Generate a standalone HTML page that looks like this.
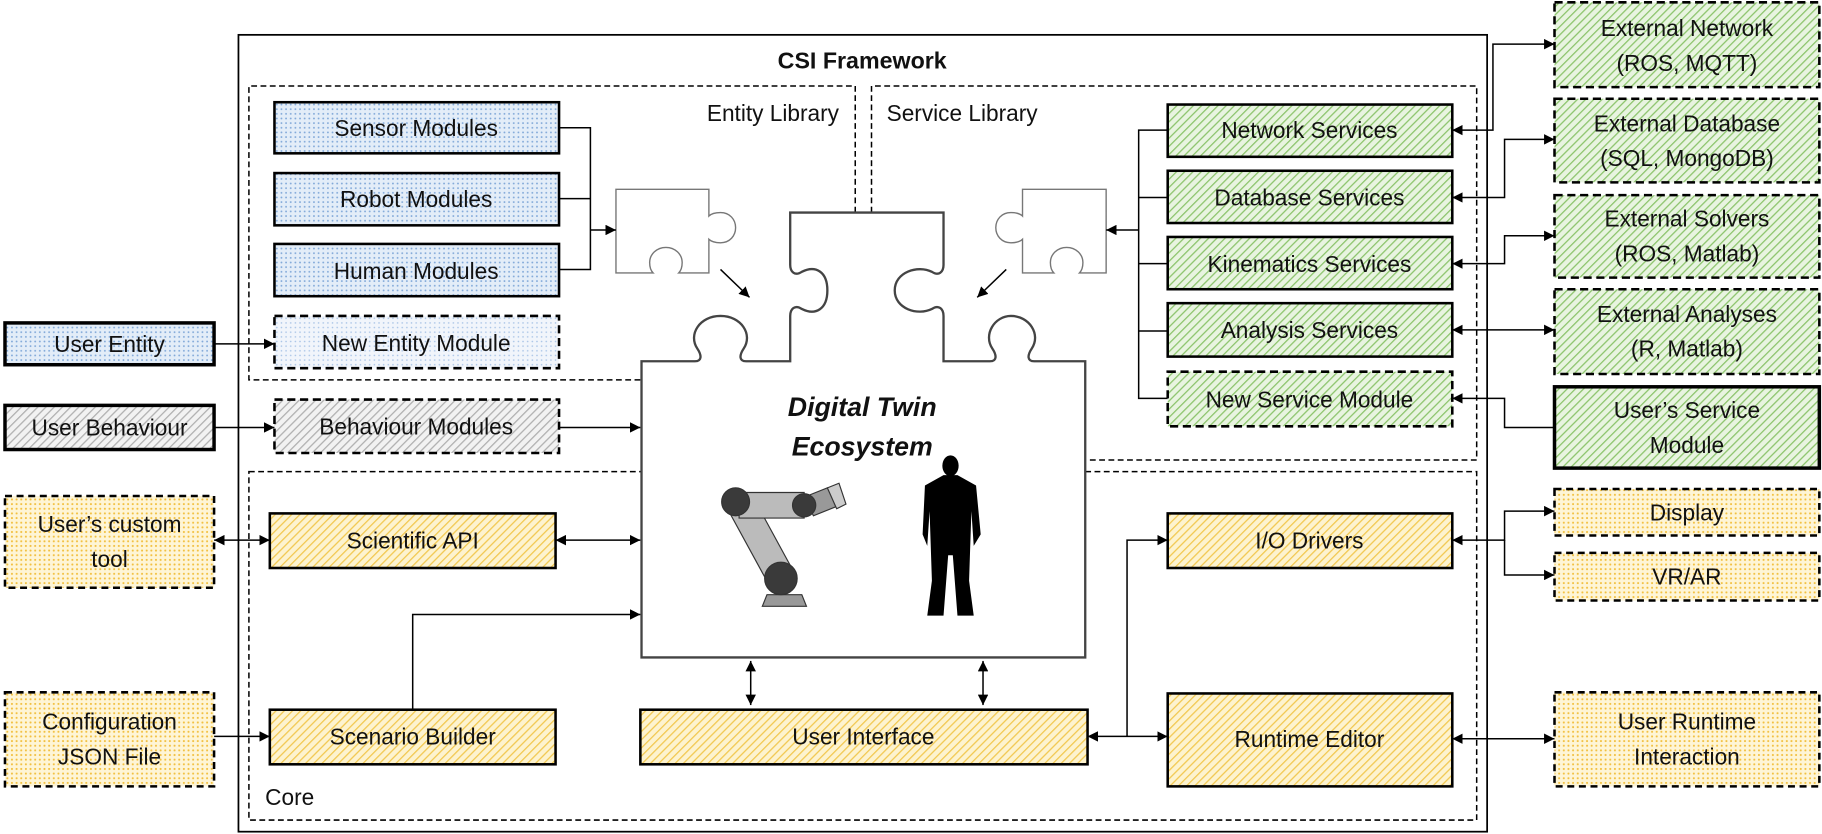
<!DOCTYPE html>
<html><head><meta charset="utf-8"><style>
html,body{margin:0;padding:0;background:#fff}
svg{display:block}
text{font-family:"Liberation Sans",sans-serif;font-size:19.5px;fill:#111}
</style></head><body>
<svg width="1822" height="834" viewBox="0 0 1568 718" xmlns="http://www.w3.org/2000/svg">
<defs>
<marker id="a" viewBox="0 0 10 10" refX="10" refY="5" markerWidth="9" markerHeight="9" markerUnits="userSpaceOnUse" orient="auto-start-reverse"><path d="M0,0L10,5L0,10z" fill="#000"/></marker>
<pattern id="hb" width="4" height="4" patternUnits="userSpaceOnUse"><rect width="4" height="4" fill="#e3edf8"/><circle cx="2" cy="2" r="0.8" fill="#80a8d8"/></pattern>
<pattern id="hg" width="5" height="5" patternUnits="userSpaceOnUse" patternTransform="rotate(45)"><rect width="5" height="5" fill="#f2f2f2"/><rect width="1.1" height="5" fill="#b0b0b0"/></pattern>
<pattern id="hy" width="5" height="5" patternUnits="userSpaceOnUse" patternTransform="rotate(45)"><rect width="5" height="5" fill="#fdf3cf"/><rect width="1.1" height="5" fill="#f2c850"/></pattern>
<pattern id="hgr" width="5" height="5" patternUnits="userSpaceOnUse" patternTransform="rotate(45)"><rect width="5" height="5" fill="#e8f4e0"/><rect width="1.1" height="5" fill="#8cc46c"/></pattern>
<pattern id="dy" width="4" height="4" patternUnits="userSpaceOnUse"><rect width="4" height="4" fill="#fef5d6"/><circle cx="2" cy="2" r="0.9" fill="#f2c040"/></pattern>
<pattern id="hbd" width="4" height="4" patternUnits="userSpaceOnUse"><rect width="4" height="4" fill="#f1f5fb"/><circle cx="2" cy="2" r="0.7" fill="#a7c3e6"/></pattern>
</defs>
<g fill="none" stroke="#000">
<rect x="205" y="30" width="1075" height="686" stroke-width="1.5"/>
<g stroke-dasharray="5,3" stroke-width="1.3">
<path d="M736,183V74H214V327H552"/>
<path d="M750,183V74H1271V396H935"/>
<rect x="214" y="406" width="1057" height="300"/>
</g>
</g>
<text x="742" y="59" text-anchor="middle" style="font-weight:bold;font-size:20px">CSI Framework</text>
<text x="722" y="104" text-anchor="end">Entity Library</text>
<text x="763" y="104">Service Library</text>
<text x="228" y="693">Core</text>

<!-- main puzzle -->
<path d="M552,566V311H598C604,311 604,306 600,300C592,288 602,272 620,272C638,272 648,288 640,300C636,306 636,311 642,311H680V272C680,266 684,262 690,266C702,272 712,266 712,250C712,234 702,228 690,234C684,238 680,234 680,228V183H812V228C812,234 808,238 802,234C790,228 770,234 770,250C770,266 790,272 802,266C808,262 812,266 812,272V311H852C858,311 858,306 854,300C846,288 856,272 870,272C886,272 896,288 888,300C884,306 884,311 890,311H934V566Z" fill="#fff" stroke="#444" stroke-width="2"/>
<text x="742" y="358" text-anchor="middle" style="font-weight:bold;font-style:italic;font-size:23px">Digital Twin</text>
<text x="742" y="392" text-anchor="middle" style="font-weight:bold;font-style:italic;font-size:23px">Ecosystem</text>
<!-- robot -->
<g stroke="#333" stroke-width="1">
<path d="M660,512h30l4,10h-38z" fill="#999"/>
<path d="M626,438L648,428L684,494L662,504z" fill="#bbb"/>
<path d="M636,424H692V446H636z" fill="#bbb"/>
<path d="M692,428L712,420L720,436L700,444z" fill="#999"/>
<path d="M712,420L722,416L728,434L720,438z" fill="#ccc"/>
<circle cx="672" cy="498" r="14" fill="#3a3a3a"/>
<circle cx="633" cy="432" r="12" fill="#3a3a3a"/>
<circle cx="692" cy="435" r="10" fill="#3a3a3a"/>
</g>
<!-- human -->
<g fill="#000">
<ellipse cx="818" cy="401" rx="7" ry="9"/>
<path d="M812,409H824L840,418L844,460L838,470L836,440L834,500L838,530H824L820,478L816,478L812,530H798L802,500L800,440L798,470L794,460L796,418Z"/>
</g>

<!-- small puzzles -->
<path d="M530,163H610V186C612,184 616,183 620,183C628,183 633,189 633,196C633,203 628,209 620,209C616,209 612,208 610,206V235H584C586,233 587,230 587,226C587,219 581,213 573,213C565,213 559,219 559,226C559,230 560,233 562,235H530Z" fill="#fff" stroke="#777" stroke-width="1.2"/>
<path d="M952,163H880V186C878,184 874,183 870,183C862,183 857,189 857,196C857,203 862,209 870,209C874,209 878,208 880,206V235H907C905,233 904,230 904,226C904,219 910,213 918,213C926,213 932,219 932,226C932,230 931,233 929,235H952Z" fill="#fff" stroke="#777" stroke-width="1.2"/>
<g stroke="#000" stroke-width="1.3" fill="none">
<line x1="620" y1="232" x2="645" y2="256" marker-end="url(#a)"/>
<line x1="866" y1="232" x2="841" y2="256" marker-end="url(#a)"/>
<path d="M481,110H508V232H481M481,171H508" />
<line x1="508" y1="198" x2="530" y2="198" marker-end="url(#a)"/>
<path d="M1005,112H980V343H1005M1005,170H980M1005,227H980M1005,285H980"/>
<line x1="980" y1="198" x2="952" y2="198" marker-end="url(#a)"/>
<line x1="184" y1="296" x2="236" y2="296" marker-end="url(#a)"/>
<line x1="184" y1="368" x2="236" y2="368" marker-end="url(#a)"/>
<line x1="481" y1="368" x2="551" y2="368" marker-end="url(#a)"/>
<line x1="184" y1="465" x2="232" y2="465" marker-start="url(#a)" marker-end="url(#a)"/>
<line x1="478" y1="465" x2="551" y2="465" marker-start="url(#a)" marker-end="url(#a)"/>
<path d="M355,611V529H551" marker-end="url(#a)"/>
<line x1="184" y1="634" x2="232" y2="634" marker-end="url(#a)"/>
<line x1="646" y1="569" x2="646" y2="607" marker-start="url(#a)" marker-end="url(#a)"/>
<line x1="846" y1="569" x2="846" y2="607" marker-start="url(#a)" marker-end="url(#a)"/>
<line x1="936" y1="634" x2="1005" y2="634" marker-start="url(#a)" marker-end="url(#a)"/>
<path d="M970,634V465H1005" marker-end="url(#a)"/>
<path d="M1250,112H1285V38H1338" marker-start="url(#a)" marker-end="url(#a)"/>
<path d="M1250,170H1295V120H1338" marker-start="url(#a)" marker-end="url(#a)"/>
<path d="M1250,227H1295V203H1338" marker-start="url(#a)" marker-end="url(#a)"/>
<line x1="1250" y1="284" x2="1338" y2="284" marker-start="url(#a)" marker-end="url(#a)"/>
<path d="M1338,368H1295V343H1250" marker-end="url(#a)"/>
<path d="M1250,465H1295V440H1338" marker-start="url(#a)" marker-end="url(#a)"/>
<path d="M1295,465V495H1338" marker-end="url(#a)"/>
<line x1="1250" y1="636" x2="1338" y2="636" marker-start="url(#a)" marker-end="url(#a)"/>
</g>

<g stroke="#000" stroke-width="2.2">
<rect x="236" y="88" width="245" height="44" fill="url(#hb)"/>
<rect x="236" y="149" width="245" height="45" fill="url(#hb)"/>
<rect x="236" y="210" width="245" height="45" fill="url(#hb)"/>
<rect x="236" y="272" width="245" height="45" fill="url(#hbd)" stroke-dasharray="7,4"/>
<rect x="236" y="344" width="245" height="46" fill="url(#hg)" stroke-dasharray="7,4"/>
<rect x="4" y="278" width="180" height="36" fill="url(#hb)" stroke-width="3"/>
<rect x="4" y="349" width="180" height="38" fill="url(#hg)" stroke-width="3"/>
<rect x="4" y="427" width="180" height="79" fill="url(#dy)" stroke-dasharray="6,4"/>
<rect x="4" y="596" width="180" height="81" fill="url(#dy)" stroke-dasharray="6,4"/>
<rect x="232" y="442" width="246" height="47" fill="url(#hy)"/>
<rect x="232" y="611" width="246" height="47" fill="url(#hy)"/>
<rect x="551" y="611" width="385" height="47" fill="url(#hy)"/>
<rect x="1005" y="442" width="245" height="47" fill="url(#hy)"/>
<rect x="1005" y="597" width="245" height="80" fill="url(#hy)"/>
<rect x="1005" y="90" width="245" height="45" fill="url(#hgr)"/>
<rect x="1005" y="147" width="245" height="45" fill="url(#hgr)"/>
<rect x="1005" y="204" width="245" height="45" fill="url(#hgr)"/>
<rect x="1005" y="261" width="245" height="46" fill="url(#hgr)"/>
<rect x="1005" y="320" width="245" height="47" fill="url(#hgr)" stroke-dasharray="7,4"/>
<rect x="1338" y="2" width="228" height="73" fill="url(#hgr)" stroke-dasharray="7,4"/>
<rect x="1338" y="85" width="228" height="72" fill="url(#hgr)" stroke-dasharray="7,4"/>
<rect x="1338" y="168" width="228" height="71" fill="url(#hgr)" stroke-dasharray="7,4"/>
<rect x="1338" y="249" width="228" height="73" fill="url(#hgr)" stroke-dasharray="7,4"/>
<rect x="1338" y="333" width="228" height="70" fill="url(#hgr)" stroke-width="3"/>
<rect x="1338" y="421" width="228" height="40" fill="url(#dy)" stroke-dasharray="6,4"/>
<rect x="1338" y="476" width="228" height="41" fill="url(#dy)" stroke-dasharray="6,4"/>
<rect x="1338" y="596" width="228" height="81" fill="url(#dy)" stroke-dasharray="6,4"/>
</g>
<g text-anchor="middle">
<text x="358" y="117">Sensor Modules</text>
<text x="358" y="178">Robot Modules</text>
<text x="358" y="240">Human Modules</text>
<text x="358" y="302">New Entity Module</text>
<text x="358" y="374">Behaviour Modules</text>
<text x="94" y="303">User Entity</text>
<text x="94" y="375">User Behaviour</text>
<text x="94" y="458">User’s custom</text>
<text x="94" y="488">tool</text>
<text x="94" y="628">Configuration</text>
<text x="94" y="658">JSON File</text>
<text x="355" y="472">Scientific API</text>
<text x="355" y="641">Scenario Builder</text>
<text x="743" y="641">User Interface</text>
<text x="1127" y="472">I/O Drivers</text>
<text x="1127" y="643">Runtime Editor</text>
<text x="1127" y="119">Network Services</text>
<text x="1127" y="177">Database Services</text>
<text x="1127" y="234">Kinematics Services</text>
<text x="1127" y="291">Analysis Services</text>
<text x="1127" y="351">New Service Module</text>
<text x="1452" y="31">External Network</text>
<text x="1452" y="61">(ROS, MQTT)</text>
<text x="1452" y="113">External Database</text>
<text x="1452" y="143">(SQL, MongoDB)</text>
<text x="1452" y="195">External Solvers</text>
<text x="1452" y="225">(ROS, Matlab)</text>
<text x="1452" y="277">External Analyses</text>
<text x="1452" y="307">(R, Matlab)</text>
<text x="1452" y="360">User’s Service</text>
<text x="1452" y="390">Module</text>
<text x="1452" y="448">Display</text>
<text x="1452" y="503">VR/AR</text>
<text x="1452" y="628">User Runtime</text>
<text x="1452" y="658">Interaction</text>
</g>
</svg>
</body></html>
